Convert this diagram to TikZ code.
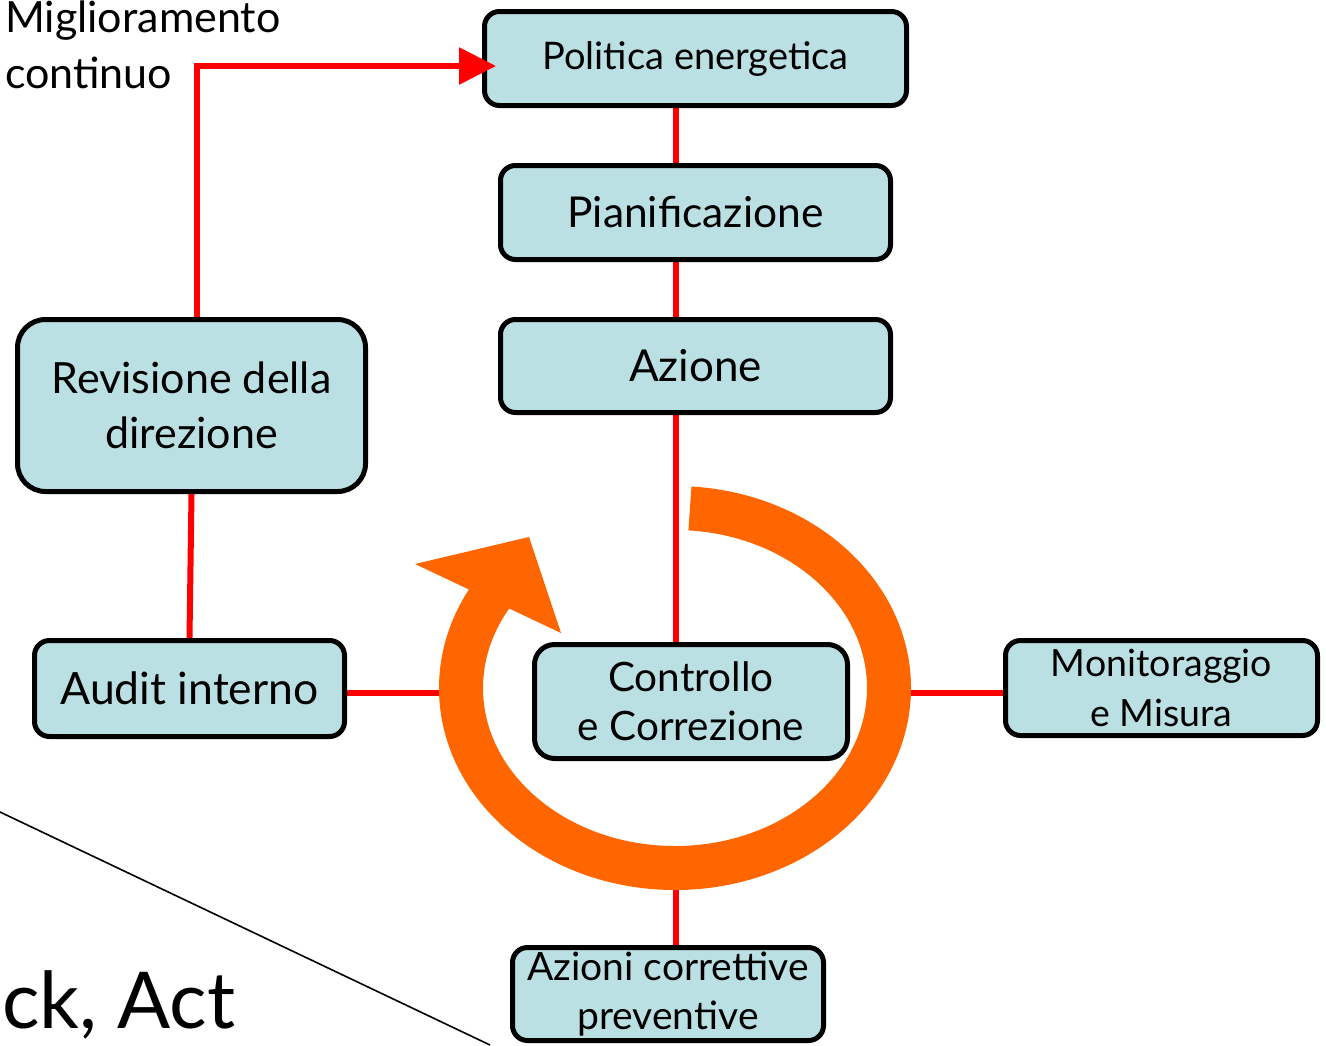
\documentclass[tikz,border=0pt]{standalone}
\usepackage{fontspec}
\setmainfont{Lato}
\usetikzlibrary{arrows.meta}
\definecolor{boxfill}{RGB}{187,224,227}
\definecolor{ringor}{RGB}{255,102,0}
\definecolor{linered}{RGB}{255,0,0}
\newcommand{\fsz}[2]{\fontsize{#1}{#2}\selectfont}
\pgfdeclarelayer{bg}
\pgfsetlayers{bg,main}
\begin{document}
\begin{tikzpicture}[x=1pt,y=1pt,
  box/.style={draw=black, line width=5pt, fill=boxfill, rounded corners=15pt, inner sep=0pt, align=center},
  conn/.style={draw=linered, line width=6pt},
]
\useasboundingbox (0,0) rectangle (1326,-1045);
\coordinate (spine) at (676,0);
\coordinate (ringc) at (675,-688);
\coordinate (ringL) at (440,-693);
\coordinate (ringR) at (910,-693);
\coordinate (ringB) at (676,-885);

% diagonal line
\draw[line width=1.6pt] (0,-812) -- (490,-1045);

% boxes
\node[box, minimum width=422pt, minimum height=94pt, font=\fsz{38}{46}] (pol) at (695.5,-58.5) {Politica energetica};
\node[box, minimum width=390pt, minimum height=94pt, font=\fsz{42.5}{50}] (pia) at (695.5,-212.5) {Pianificazione};
\node[box, minimum width=390pt, minimum height=93pt, font=\fsz{44}{50}] (azi) at (695.5,-366) {Azione};
\node[box, rounded corners=28pt, minimum width=348pt, minimum height=172pt, font=\fsz{43}{55}] (rev) at (191.5,-405.5) {Revisione della\\ direzione};
\node[box, minimum width=310pt, minimum height=96pt, font=\fsz{44.5}{50}] (aud) at (189.5,-688.5) {Audit interno};
\node[box, rounded corners=20pt, minimum width=313pt, minimum height=114pt, font=\fsz{40.5}{49}] (con) at (691,-701.5) {Controllo\\ e Correzione};
\node[box, minimum width=312pt, minimum height=95pt, font=\fsz{37.5}{50}] (mon) at (1161.5,-688) {Monitoraggio\\ e Misura};
\node[box, minimum width=311pt, minimum height=93pt, font=\fsz{39}{49}] (acp) at (668,-994) {Azioni correttive\\ preventive};

\begin{pgfonlayer}{bg}
% connectors
\draw[conn] (pol.south -| spine) -- (pia.north -| spine);
\draw[conn] (pia.south -| spine) -- (azi.north -| spine);
\draw[conn] (azi.south -| spine) -- (con.north -| spine);
\draw[conn] (rev.south) -- (aud.north);
\draw[conn] (aud.east |- ringL) -- (ringL);
\draw[conn] (ringR) -- (mon.west |- ringR);
\draw[conn] (ringB) -- (acp.north -| spine);
% orange cycle arrow
\draw[ringor, line width=44pt] ([shift={(86:214pt and 180pt)}]ringc) arc[start angle=86, end angle=-212, x radius=214pt, y radius=180pt];
\fill[ringor] (415,-564) -- (529,-537) -- (561,-633) -- cycle;
\end{pgfonlayer}

% feedback arrow
\draw[conn, -{Triangle[length=37pt, width=36pt]}] ([xshift=5.5pt]rev.north) |- ([xshift=14pt, yshift=-7.5pt]pol.west);

% free texts
\node[anchor=base west, align=left, inner sep=0pt, font=\fsz{43}{56}] (mig) at (5,-88) {Miglioramento\\ continuo};
\node[anchor=base west, inner sep=0pt, font=\fsz{78.5}{84}] (act) at (2,-1028) {ck, Act};
\end{tikzpicture}
\end{document}
